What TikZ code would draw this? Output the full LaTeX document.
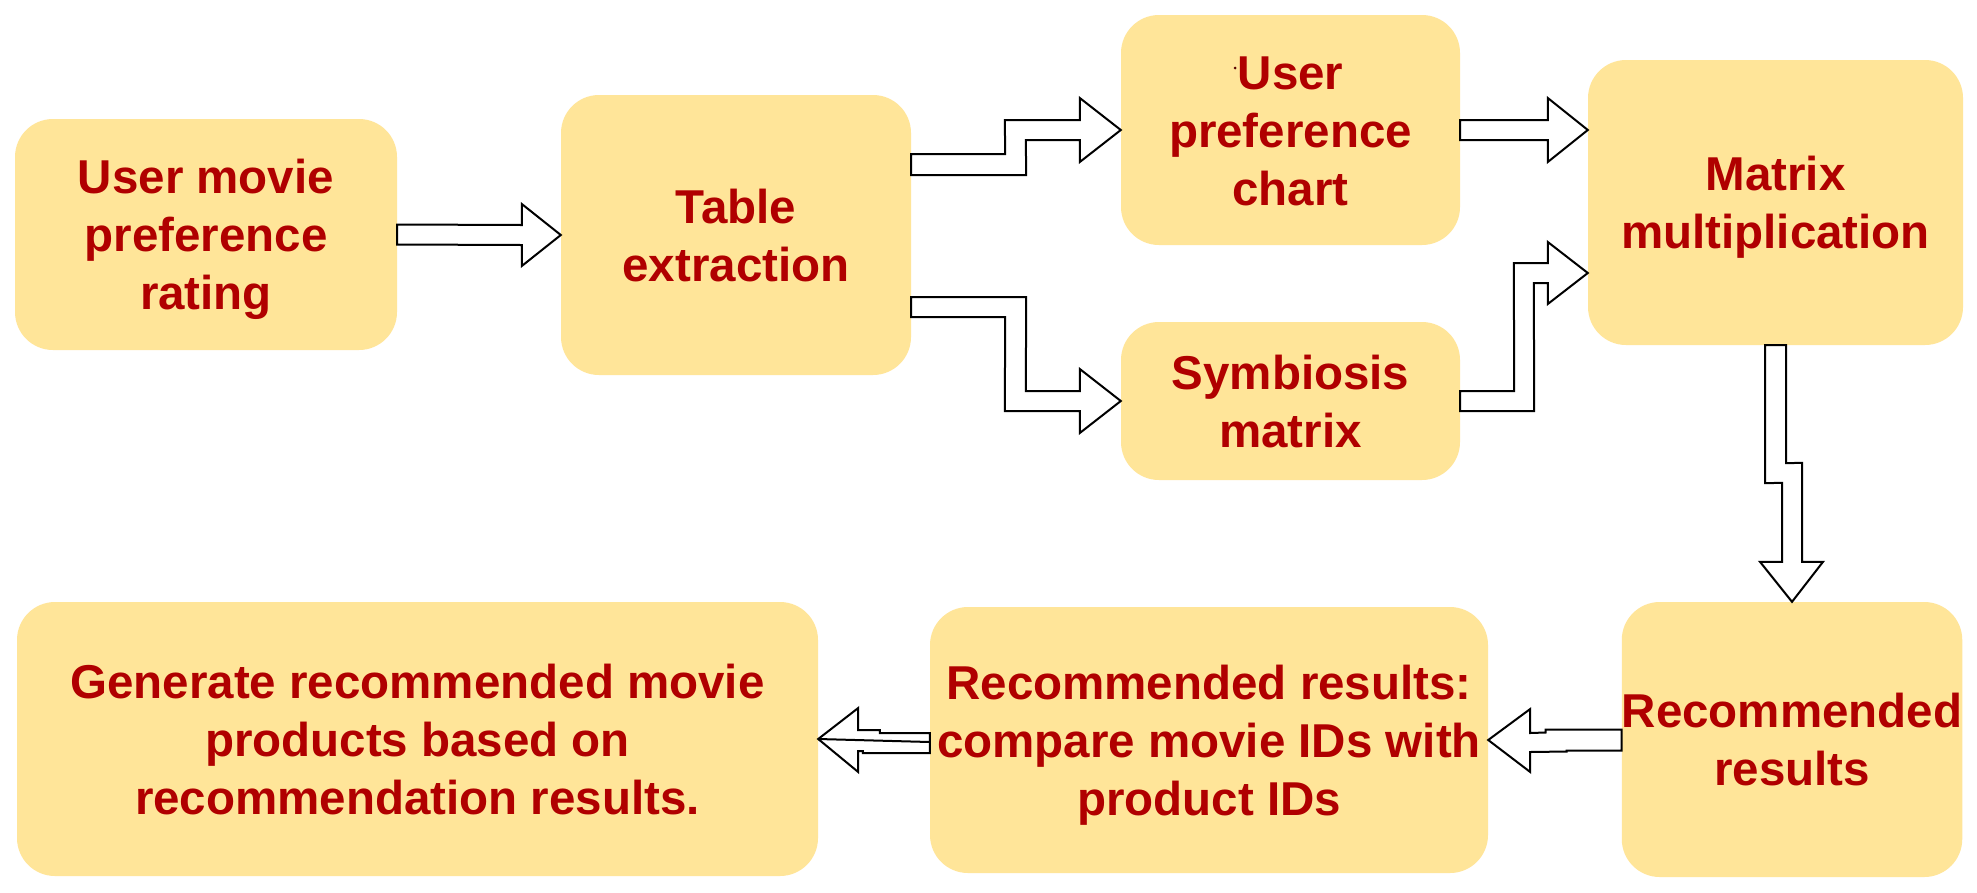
\documentclass[tikz,border=0pt]{standalone}
\usepackage{fontspec}
\setmainfont{Liberation Sans}
\usetikzlibrary{calc}
\definecolor{boxfill}{RGB}{255,229,153}
\definecolor{txtred}{RGB}{176,0,0}
\newcommand{\topfix}{\rule{0pt}{0.93em}}
\newcommand{\botfix}{\rule[-0.21em]{0pt}{0pt}}
\begin{document}
\begin{tikzpicture}[x=1pt,y=-1pt,
  procbox/.style={fill=boxfill, rounded corners=38pt, inner sep=0pt, text=txtred, align=center,
    font=\fontsize{47.5}{58}\selectfont\bfseries},
  blockarrow/.style={draw=black, fill=white, line width=2pt, line join=miter}]
\useasboundingbox (0,0) rectangle (1977,892);
\fill[white] (0,0) rectangle (1977,892);

\node[procbox, minimum width=382pt, minimum height=231pt] (A) at (206,234.5) {\topfix User movie\\preference\\rating\botfix};
\node[procbox, minimum width=350pt, minimum height=280pt] (B) at (736,235) {\topfix Table\\extraction\botfix};
\node[procbox, minimum width=339pt, minimum height=230pt] (C) at (1290.5,130) {\topfix User\\preference\\chart\botfix};
\node[procbox, minimum width=339pt, minimum height=158pt] (D) at (1290.5,401) {\topfix Symbiosis\\matrix\botfix};
\node[procbox, minimum width=375pt, minimum height=285pt] (E) at (1775.5,202.5) {\topfix Matrix\\multiplication\botfix};
\node[procbox, minimum width=340pt, minimum height=275pt] (F) at (1792,739.5) {\topfix Recommended\\results\botfix};
\node[procbox, minimum width=558pt, minimum height=266pt] (G) at (1209,740) {\topfix Recommended results:\\compare movie IDs with\\product IDs\botfix};
\node[procbox, minimum width=801pt, minimum height=274pt] (H) at (417.5,739) {\topfix Generate recommended movie\\products based on\\recommendation results.\botfix};

\fill[txtred!50!black] (1235,68) circle (1.5);

% A -> B
\draw[blockarrow] ($(A.east)+(0,-10)$) -- ($(B.west)+(-39,-10)$) -- ($(B.west)+(-39,-31)$) -- (B.west)
  -- ($(B.west)+(-39,31)$) -- ($(B.west)+(-39,10)$) -- ($(A.east)+(0,10)$) -- cycle;

% B -> C
\draw[blockarrow] ($(B.east)+(0,-81)$) -- ($(B.east)+(94,-81)$) -- ($(C.west)+(-116,-10)$) -- ($(C.west)+(-41,-10)$)
  -- ($(C.west)+(-41,-32)$) -- (C.west) -- ($(C.west)+(-41,32)$) -- ($(C.west)+(-41,10)$)
  -- ($(C.west)+(-95,10)$) -- ($(B.east)+(115,-60)$) -- ($(B.east)+(0,-60)$) -- cycle;

% B -> D
\draw[blockarrow] ($(B.east)+(0,62)$) -- ($(B.east)+(115,62)$) -- ($(D.west)+(-95,-10)$) -- ($(D.west)+(-41,-10)$)
  -- ($(D.west)+(-41,-32)$) -- (D.west) -- ($(D.west)+(-41,32)$) -- ($(D.west)+(-41,10)$)
  -- ($(D.west)+(-116,10)$) -- ($(B.east)+(94,82)$) -- ($(B.east)+(0,82)$) -- cycle;

% C -> E
\coordinate (t1) at (E.west |- C.east);
\draw[blockarrow] ($(C.east)+(0,-10)$) -- ($(t1)+(-40,-10)$) -- ($(t1)+(-40,-32)$) -- (t1)
  -- ($(t1)+(-40,32)$) -- ($(t1)+(-40,10)$) -- ($(C.east)+(0,10)$) -- cycle;

% D -> E
\coordinate (t2) at ($(E.west)+(0,70.5)$);
\draw[blockarrow] ($(D.east)+(0,-10)$) -- ($(D.east)+(54,-10)$) -- ($(t2)+(-74,-10)$) -- ($(t2)+(-40,-10)$)
  -- ($(t2)+(-40,-31)$) -- (t2) -- ($(t2)+(-40,31)$) -- ($(t2)+(-40,10)$)
  -- ($(t2)+(-54,10)$) -- ($(D.east)+(74,10)$) -- ($(D.east)+(0,10)$) -- cycle;

% E -> F
\draw[blockarrow] ($(E.south)+(-10.5,0)$) -- ($(E.south)+(-10.5,138)$) -- ($(F.north)+(-10,-119)$) -- ($(F.north)+(-10,-40)$)
  -- ($(F.north)+(-32,-40)$) -- (F.north) -- ($(F.north)+(31,-40)$) -- ($(F.north)+(10,-40)$)
  -- ($(F.north)+(10,-139)$) -- ($(E.south)+(10.5,118)$) -- ($(E.south)+(10.5,0)$) -- cycle;

% F -> G
\draw[blockarrow] ($(F.west)+(0,-10)$) -- ($(F.west)+(-76,-10)$) -- ($(F.west)+(-76,-7)$) -- ($(G.east)+(42,-7)$)
  -- ($(G.east)+(42,-31)$) -- (G.east) -- ($(G.east)+(42,32)$) -- ($(G.east)+(42,12)$)
  -- ($(F.west)+(-55,12)$) -- ($(F.west)+(-55,11)$) -- ($(F.west)+(0,11)$) -- cycle;

% G -> H
\draw[blockarrow] ($(G.west)+(0,-7)$) -- ($(G.west)+(-50,-7)$) -- ($(G.west)+(-50,-10)$) -- ($(H.east)+(40,-9)$)
  -- ($(H.east)+(40,-31)$) -- (H.east) -- ($(H.east)+(40,33)$) -- ($(H.east)+(40,12)$)
  -- ($(G.west)+(-67,11)$) -- ($(G.west)+(-67,13)$) -- ($(G.west)+(0,13)$) -- cycle;
\draw[line width=2pt] ($(G.west)+(0,2)$) -- (H.east);
\end{tikzpicture}
\end{document}
